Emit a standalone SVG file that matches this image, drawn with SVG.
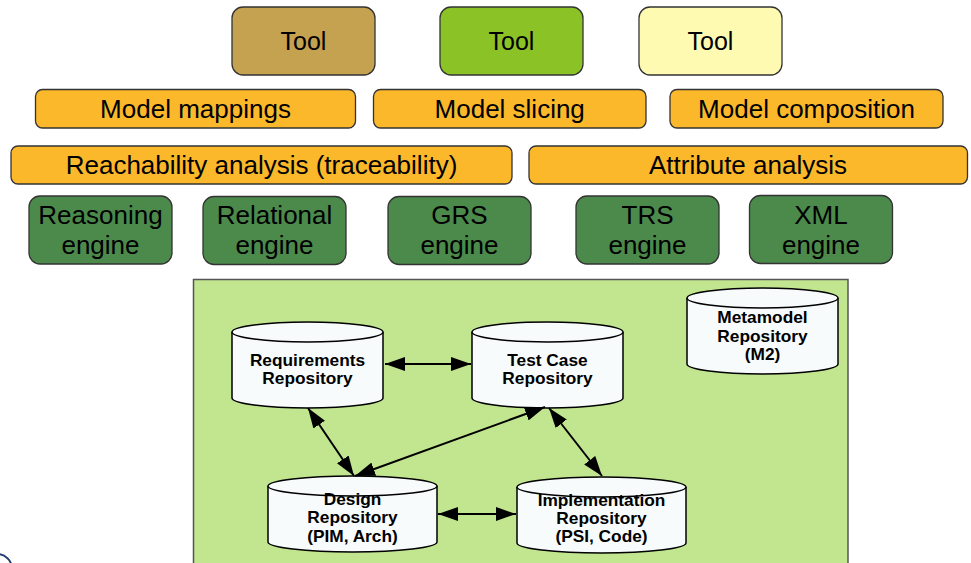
<svg xmlns="http://www.w3.org/2000/svg" width="971" height="563" viewBox="0 0 971 563">
<style>
.box{stroke:#333;stroke-width:1.3}
.lbl{font-family:"Liberation Sans",Arial,sans-serif;font-size:26px;fill:#000;text-anchor:middle}
.tl{font-family:"Liberation Sans",Arial,sans-serif;font-size:25px;fill:#000;text-anchor:middle}
.cyl{fill:#f7fbfc;stroke:#000;stroke-width:1.5}
.ct{font-family:"Liberation Sans",Arial,sans-serif;font-size:17.3px;font-weight:bold;fill:#000;text-anchor:middle}
.con{stroke:#000;stroke-width:2;fill:none;marker-start:url(#ah);marker-end:url(#ah)}
</style>
<defs>
<marker id="ah" viewBox="0 0 20 14" refX="20" refY="7" markerWidth="20" markerHeight="14" markerUnits="userSpaceOnUse" orient="auto-start-reverse">
<path d="M0,0 L20,7 L0,14 z" fill="#000"/>
</marker>
</defs>
<rect width="971" height="563" fill="#fff"/>
<g id="tool1"><rect class="box" x="232" y="7" width="143" height="68" rx="11" fill="#c4a24f"/><text class="tl" x="303.5" y="50">Tool</text></g>
<g id="tool2"><rect class="box" x="440" y="7" width="143" height="68" rx="11" fill="#8bc326"/><text class="tl" x="511.5" y="50">Tool</text></g>
<g id="tool3"><rect class="box" x="639" y="7" width="143" height="68" rx="11" fill="#fffab2"/><text class="tl" x="710.5" y="50">Tool</text></g>
<g id="mappings"><rect class="box" x="35.5" y="89.5" width="320" height="38.5" rx="7" fill="#fbb82b"/><text class="lbl" x="195.5" y="118">Model mappings</text></g>
<g id="slicing"><rect class="box" x="373.5" y="89.5" width="272.5" height="38.5" rx="7" fill="#fbb82b"/><text class="lbl" x="509.7" y="118">Model slicing</text></g>
<g id="composition"><rect class="box" x="670" y="89.5" width="273" height="38.5" rx="7" fill="#fbb82b"/><text class="lbl" x="806.5" y="118">Model composition</text></g>
<g id="reachability"><rect class="box" x="11" y="146" width="501" height="38" rx="7" fill="#fbb82b"/><text class="lbl" x="261.5" y="174">Reachability analysis (traceability)</text></g>
<g id="attribute"><rect class="box" x="529" y="146" width="438.5" height="38" rx="7" fill="#fbb82b"/><text class="lbl" x="748" y="174">Attribute analysis</text></g>
<g id="reasoning"><rect class="box" x="29" y="196" width="143" height="68" rx="11" fill="#4c8a4c"/><text class="lbl" x="100.5" y="224">Reasoning</text><text class="lbl" x="100.5" y="254">engine</text></g>
<g id="relational"><rect class="box" x="203" y="196.5" width="143" height="68" rx="11" fill="#4c8a4c"/><text class="lbl" x="274.5" y="224">Relational</text><text class="lbl" x="274.5" y="254">engine</text></g>
<g id="grs"><rect class="box" x="388" y="196.5" width="143" height="68" rx="11" fill="#4c8a4c"/><text class="lbl" x="459.5" y="224">GRS</text><text class="lbl" x="459.5" y="254">engine</text></g>
<g id="trs"><rect class="box" x="576" y="196" width="143" height="68" rx="11" fill="#4c8a4c"/><text class="lbl" x="647.5" y="224">TRS</text><text class="lbl" x="647.5" y="254">engine</text></g>
<g id="xml"><rect class="box" x="749.5" y="195.5" width="143" height="68" rx="11" fill="#4c8a4c"/><text class="lbl" x="821" y="224">XML</text><text class="lbl" x="821" y="254">engine</text></g>
<g id="repositories-area"><rect x="193.5" y="279.5" width="654.5" height="300" fill="#c2e690" stroke="#555" stroke-width="1.5"/></g>
<g id="req"><path class="cyl" d="M232,332 A75.5,10 0 0 1 383,332 L383,398 A75.5,10 0 0 1 232,398 Z"/><path class="cyl" d="M232,332 A75.5,10 0 0 0 383,332"/><text class="ct" x="307.5" y="366">Requirements</text><text class="ct" x="307.5" y="384">Repository</text></g>
<g id="test"><path class="cyl" d="M472,332 A75.5,10 0 0 1 623,332 L623,398 A75.5,10 0 0 1 472,398 Z"/><path class="cyl" d="M472,332 A75.5,10 0 0 0 623,332"/><text class="ct" x="547.5" y="366">Test Case</text><text class="ct" x="547.5" y="384">Repository</text></g>
<g id="design"><path class="cyl" d="M268,486 A84.5,10 0 0 1 437,486 L437,542 A84.5,10 0 0 1 268,542 Z"/><path class="cyl" d="M268,486 A84.5,10 0 0 0 437,486"/><text class="ct" x="352.5" y="505">Design</text><text class="ct" x="352.5" y="523">Repository</text><text class="ct" x="352.5" y="541.5">(PIM, Arch)</text></g>
<g id="impl"><path class="cyl" d="M517,487 A84.5,10 0 0 1 686,487 L686,543 A84.5,10 0 0 1 517,543 Z"/><path class="cyl" d="M517,487 A84.5,10 0 0 0 686,487"/><text class="ct" x="601.5" y="506">Implementation</text><text class="ct" x="601.5" y="524">Repository</text><text class="ct" x="601.5" y="542">(PSI, Code)</text></g>
<g id="meta"><path class="cyl" d="M687,298 A75.5,10 0 0 1 838,298 L838,364 A75.5,10 0 0 1 687,364 Z"/><path class="cyl" d="M687,298 A75.5,10 0 0 0 838,298"/><text class="ct" x="762.5" y="323">Metamodel</text><text class="ct" x="762.5" y="341.5">Repository</text><text class="ct" x="762.5" y="359.5">(M2)</text></g>
<g id="connectors">
<line class="con" x1="385" y1="364" x2="471" y2="364"/>
<line class="con" x1="308" y1="408" x2="354" y2="476"/>
<line class="con" x1="545" y1="407" x2="355" y2="476"/>
<line class="con" x1="549" y1="408" x2="602" y2="476"/>
<line class="con" x1="438" y1="514" x2="516" y2="514"/>
</g>
<circle cx="-3" cy="569" r="15" fill="none" stroke="#1f3a6e" stroke-width="2"/>
</svg>
